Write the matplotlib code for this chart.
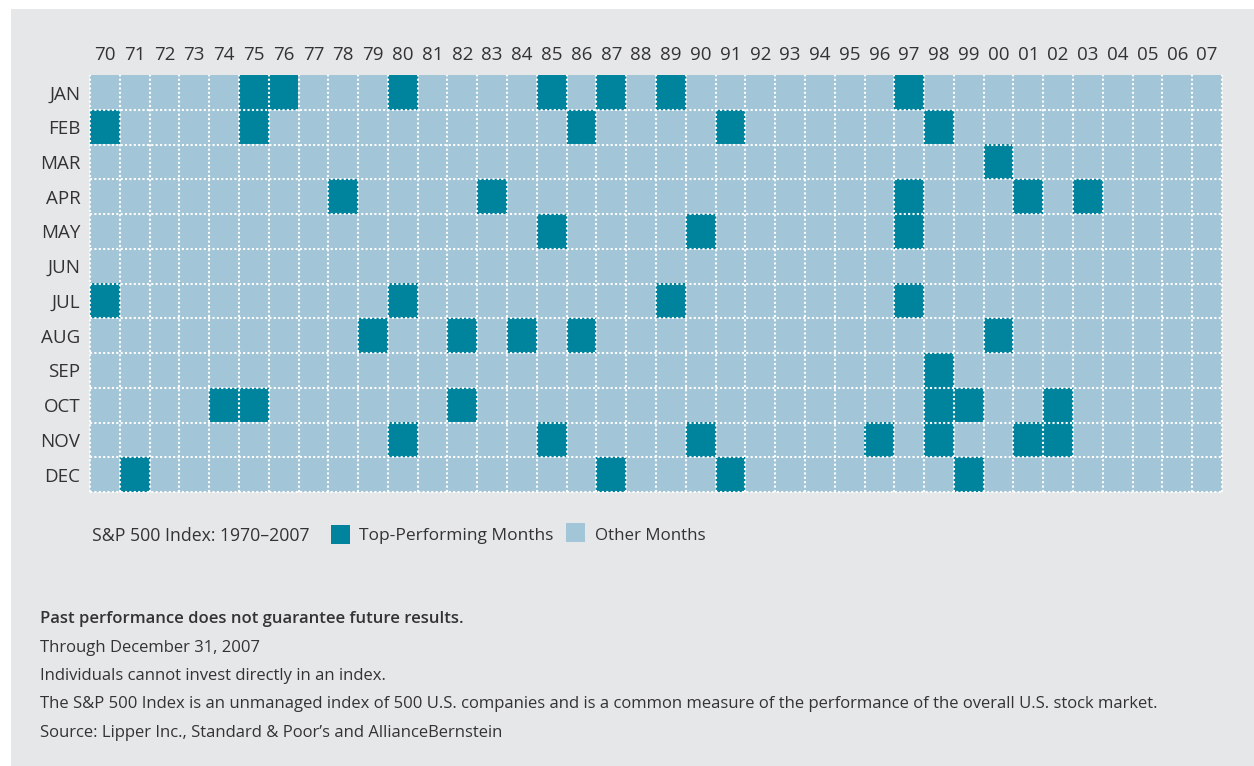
import matplotlib
matplotlib.use("Agg")
import matplotlib.pyplot as plt
import numpy as np
from matplotlib.colors import ListedColormap
from matplotlib.patches import Rectangle

plt.rcParams["font.family"] = ["Open Sans", "DejaVu Sans"]

months = ["JAN", "FEB", "MAR", "APR", "MAY", "JUN",
          "JUL", "AUG", "SEP", "OCT", "NOV", "DEC"]
years = [1970, 1971, 1972, 1973, 1974, 1975, 1976, 1977, 1978, 1979,
         1980, 1981, 1982, 1983, 1984, 1985, 1986, 1987, 1988, 1989,
         1990, 1991, 1992, 1993, 1994, 1995, 1996, 1997, 1998, 1999,
         2000, 2001, 2002, 2003, 2004, 2005, 2006, 2007]
year_labels = ["70", "71", "72", "73", "74", "75", "76", "77", "78", "79",
               "80", "81", "82", "83", "84", "85", "86", "87", "88", "89",
               "90", "91", "92", "93", "94", "95", "96", "97", "98", "99",
               "00", "01", "02", "03", "04", "05", "06", "07"]

# top-performing months, one list of years per calendar month
top_years = [
    [1975, 1976, 1980, 1985, 1987, 1989, 1997],        # JAN
    [1970, 1975, 1986, 1991, 1998],                    # FEB
    [2000],                                            # MAR
    [1978, 1983, 1997, 2001, 2003],                    # APR
    [1985, 1990, 1997],                                # MAY
    [],                                                # JUN
    [1970, 1980, 1989, 1997],                          # JUL
    [1979, 1982, 1984, 1986, 2000],                    # AUG
    [1998],                                            # SEP
    [1974, 1975, 1982, 1998, 1999, 2002],              # OCT
    [1980, 1985, 1990, 1996, 1998, 2001, 2002],        # NOV
    [1971, 1987, 1991, 1999],                          # DEC
]

legend_title = "S&P 500 Index: 1970\u20132007"
legend_labels = ["Top-Performing Months", "Other Months"]
notes = [
    "Past performance does not guarantee future results.",
    "Through December 31, 2007",
    "Individuals cannot invest directly in an index.",
    "The S&P 500 Index is an unmanaged index of 500 U.S. companies and is a common "
    "measure of the performance of the overall U.S. stock market.",
    "Source: Lipper Inc., Standard & Poor\u2019s and AllianceBernstein",
]

DARK = "#00849e"
LIGHT = "#a2c5d7"
PANEL = "#e6e7e9"
TEXT = "#333333"

W, H = 1254, 766
fig = plt.figure(figsize=(W / 100, H / 100), dpi=100)
fig.patch.set_facecolor("white")
fig.patches.append(Rectangle((11 / W, 0), 1 - 11 / W, 1 - 9 / H,
                             transform=fig.transFigure, facecolor=PANEL,
                             edgecolor="none", zorder=-10))

grid = np.zeros((len(months), len(years)))
for i, yrs in enumerate(top_years):
    for y in yrs:
        grid[i, years.index(y)] = 1

left, right, top, bottom = 90, 1222, 75, 492
ax = fig.add_axes([left / W, 1 - bottom / H, (right - left) / W, (bottom - top) / H])
ax.imshow(grid, cmap=ListedColormap([LIGHT, DARK]), vmin=0, vmax=1,
          aspect="auto", interpolation="nearest",
          extent=(-0.5, len(years) - 0.5, len(months) - 0.5, -0.5))

dot = dict(color="white", linewidth=1.5, linestyle=(0, (1, 1.1)),
           dash_capstyle="butt", clip_on=False)
for x in np.arange(-0.5, len(years), 1.0):
    ax.axvline(x, **dot)
for y in np.arange(0.5, len(months), 1.0):
    ax.axhline(y, **dot)

ax.set_xlim(-0.5, len(years) - 0.5)
ax.set_ylim(len(months) - 0.5, -0.5)
ax.set_xticks(range(len(years)))
ax.set_xticklabels(year_labels)
ax.set_yticks(range(len(months)))
ax.set_yticklabels(months)
ax.xaxis.tick_top()
ax.tick_params(length=0, labelsize=13.5, labelcolor=TEXT)
ax.tick_params(axis="x", pad=8)
ax.tick_params(axis="y", pad=7)
for s in ax.spines.values():
    s.set_visible(False)

# legend row
ty = 1 - 536 / H
fig.text(92 / W, ty, legend_title, fontsize=12.7, color=TEXT, va="center")
fig.patches.append(Rectangle((331 / W, 1 - 544 / H), 19 / W, 19 / H,
                             transform=fig.transFigure, facecolor=DARK, edgecolor="none"))
fig.text(359 / W, ty, legend_labels[0], fontsize=12.5, color=TEXT, va="center")
fig.patches.append(Rectangle((566 / W, 1 - 542 / H), 19 / W, 19 / H,
                             transform=fig.transFigure, facecolor=LIGHT, edgecolor="none"))
fig.text(595 / W, ty, legend_labels[1], fontsize=12.2, color=TEXT, va="center")

# footnotes
for k, line in enumerate(notes):
    fig.text(40 / W, 1 - (619 + 28.5 * k) / H, line, fontsize=12, color=TEXT,
             va="center", fontweight="semibold" if k == 0 else "normal")

fig.savefig("out.png", dpi=100)
